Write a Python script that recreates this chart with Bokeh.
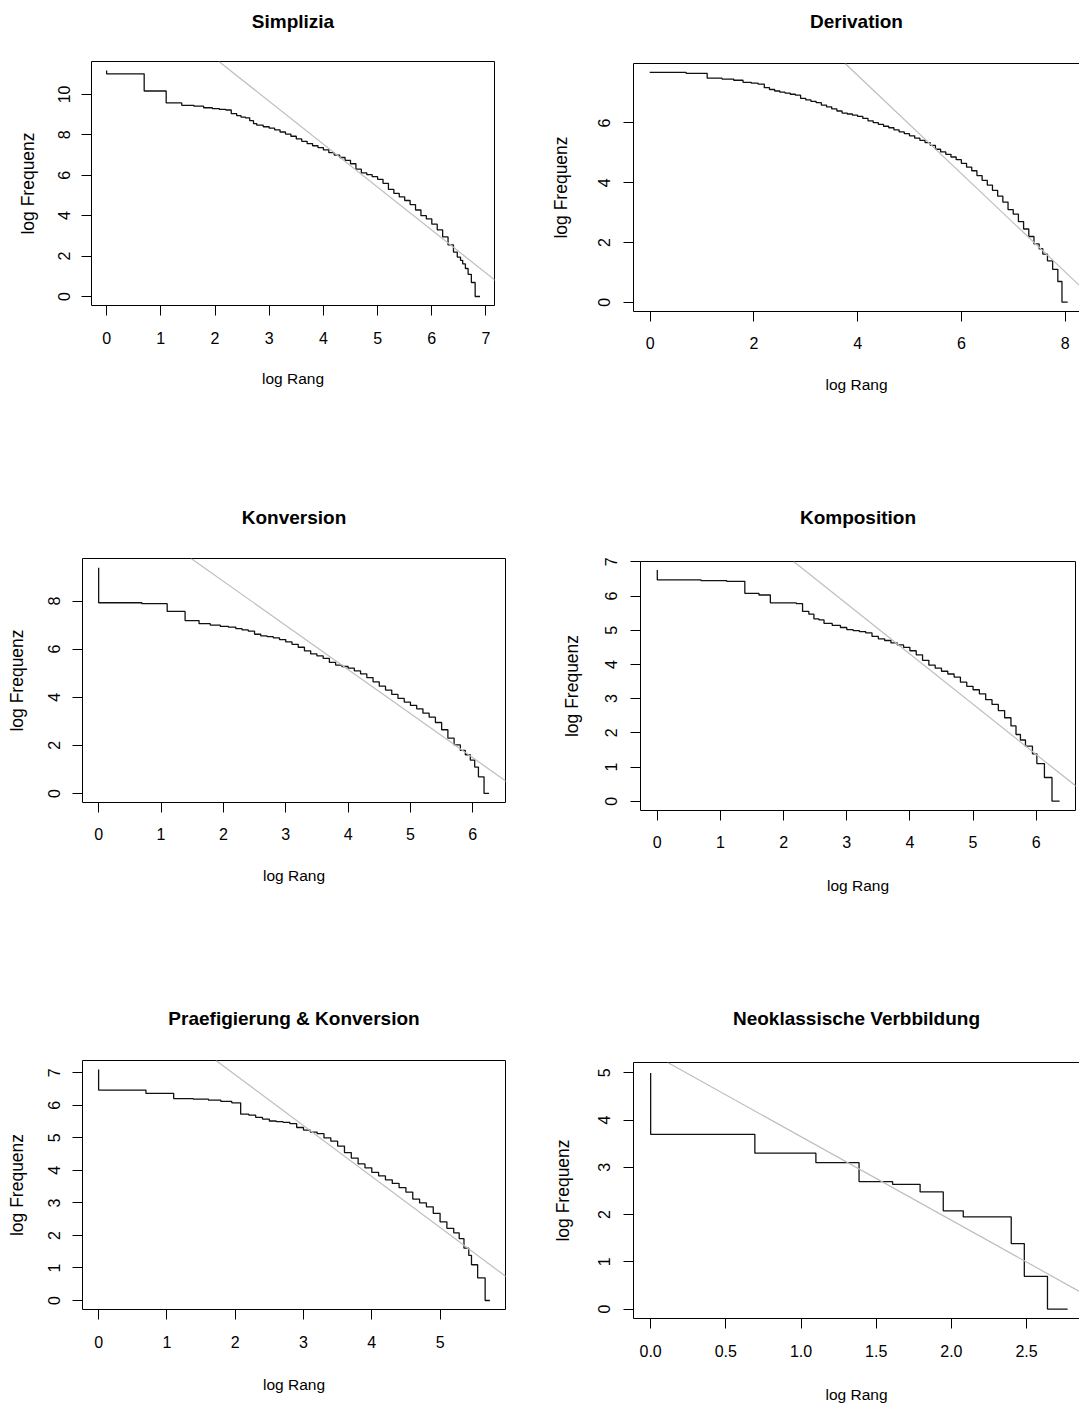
from bokeh.plotting import figure
from bokeh.models import Range1d, FixedTicker, LinearAxis, Slope, PrintfTickFormatter
from bokeh.layouts import column, row
from bokeh.embed import file_html
from bokeh.resources import INLINE

FONT = "Liberation Sans"

# ---------------- data (log rank, log frequency) ----------------
titles = ["Simplizia", "Derivation", "Konversion", "Komposition",
          "Praefigierung & Konversion", "Neoklassische Verbbildung"]

simplizia_x = [0, 0.693, 1.099, 1.386, 1.61, 1.79, 1.95, 2.08, 2.20, 2.30, 2.40, 2.48, 2.56, 2.64,
               2.71, 2.77, 2.89, 3.0, 3.1, 3.2, 3.3, 3.4, 3.5, 3.6, 3.7, 3.8, 3.9, 4.0, 4.1, 4.2,
               4.3, 4.4, 4.5, 4.6, 4.7, 4.8, 4.9, 5.0, 5.1, 5.2, 5.3, 5.4, 5.5, 5.6, 5.7, 5.8,
               5.9, 6.0, 6.1, 6.2, 6.3, 6.4, 6.47, 6.53, 6.57, 6.62, 6.67, 6.73, 6.80, 6.89]
simplizia_y = [11.19, 11.02, 10.17, 9.58, 9.46, 9.42, 9.34, 9.30, 9.26, 9.23, 9.05, 8.95, 8.88, 8.84,
               8.70, 8.56, 8.48, 8.40, 8.33, 8.25, 8.14, 8.04, 7.93, 7.80, 7.68, 7.57, 7.46, 7.37, 7.26, 7.12,
               7.00, 6.88, 6.74, 6.57, 6.30, 6.12, 6.03, 5.93, 5.80, 5.60, 5.30, 5.10, 4.93, 4.75, 4.55, 4.28,
               4.00, 3.84, 3.58, 3.30, 2.95, 2.55, 2.20, 1.95, 1.79, 1.61, 1.386, 1.099, 0.693, 0]

derivation_x = [0, 0.693, 1.099, 1.386, 1.61, 1.79, 1.95, 2.08, 2.2, 2.3, 2.4, 2.5, 2.6, 2.7, 2.8, 2.9,
                3.0, 3.1, 3.2, 3.3, 3.4, 3.5, 3.6, 3.7, 3.8, 3.9, 4.0, 4.1, 4.2, 4.3, 4.4, 4.5, 4.6,
                4.7, 4.8, 4.9, 5.0, 5.1, 5.2, 5.3, 5.4, 5.5, 5.6, 5.7, 5.8, 5.9, 6.0, 6.1, 6.2, 6.3,
                6.4, 6.5, 6.6, 6.7, 6.8, 6.9, 7.0, 7.1, 7.2, 7.3, 7.4, 7.5, 7.57, 7.66, 7.76, 7.86,
                7.94, 8.05]
derivation_y = [7.71, 7.69, 7.66, 7.50, 7.47, 7.43, 7.36, 7.33, 7.30, 7.18, 7.12, 7.07, 7.03, 7.00, 6.96, 6.93,
                6.82, 6.77, 6.72, 6.68, 6.60, 6.54, 6.47, 6.40, 6.33, 6.30, 6.26, 6.22, 6.15, 6.07, 6.01, 5.95, 5.89,
                5.84, 5.77, 5.70, 5.64, 5.57, 5.49, 5.42, 5.34, 5.25, 5.12, 5.03, 4.95, 4.86, 4.77, 4.65, 4.52, 4.40,
                4.24, 4.08, 3.92, 3.74, 3.55, 3.35, 3.10, 2.95, 2.70, 2.45, 2.20, 1.95, 1.79, 1.61, 1.386, 1.099,
                0.693, 0]

konversion_x = [0, 0.693, 1.099, 1.386, 1.61, 1.79, 1.95, 2.08, 2.2, 2.3, 2.4, 2.5, 2.6, 2.7, 2.8, 2.9,
                3.0, 3.1, 3.2, 3.3, 3.4, 3.5, 3.6, 3.7, 3.8, 3.9, 4.0, 4.1, 4.2, 4.3, 4.4, 4.5, 4.6, 4.7,
                4.8, 4.9, 5.0, 5.1, 5.2, 5.3, 5.4, 5.5, 5.6, 5.7, 5.8, 5.88, 5.96, 6.03, 6.09, 6.18, 6.26]
konversion_y = [9.39, 7.93, 7.89, 7.57, 7.19, 7.06, 7.00, 6.95, 6.92, 6.85, 6.80, 6.75, 6.62, 6.55, 6.52, 6.47,
                6.40, 6.30, 6.20, 6.08, 5.93, 5.80, 5.72, 5.62, 5.45, 5.34, 5.28, 5.21, 5.10, 4.97, 4.82, 4.64, 4.46, 4.30,
                4.12, 3.95, 3.80, 3.66, 3.52, 3.34, 3.17, 2.95, 2.65, 2.30, 2.02, 1.79, 1.61, 1.386, 1.099, 0.693, 0]

komposition_x = [0, 0.693, 1.099, 1.386, 1.61, 1.79, 1.95, 2.08, 2.2, 2.3, 2.4, 2.48, 2.56, 2.64, 2.77, 2.9,
                 3.0, 3.1, 3.2, 3.3, 3.4, 3.5, 3.6, 3.7, 3.8, 3.9, 4.0, 4.1, 4.2, 4.3, 4.4, 4.5, 4.6, 4.7,
                 4.8, 4.9, 5.0, 5.1, 5.2, 5.3, 5.4, 5.5, 5.6, 5.68, 5.75, 5.83, 5.94, 6.01, 6.13, 6.25, 6.37]
komposition_y = [6.76, 6.47, 6.45, 6.43, 6.08, 6.03, 5.80, 5.80, 5.80, 5.78, 5.55, 5.47, 5.33, 5.30, 5.20, 5.14,
                 5.08, 5.02, 4.99, 4.96, 4.92, 4.82, 4.75, 4.70, 4.63, 4.57, 4.50, 4.40, 4.28, 4.12, 3.98, 3.89, 3.80, 3.72,
                 3.63, 3.48, 3.36, 3.26, 3.14, 2.97, 2.83, 2.65, 2.44, 2.20, 1.95, 1.79, 1.61, 1.386, 1.099, 0.693, 0]

praefig_x = [0, 0.693, 1.099, 1.386, 1.61, 1.79, 1.95, 2.08, 2.2, 2.3, 2.4, 2.5, 2.6, 2.7, 2.8, 2.9,
             3.0, 3.1, 3.2, 3.3, 3.4, 3.5, 3.6, 3.7, 3.8, 3.9, 4.0, 4.1, 4.2, 4.3, 4.4, 4.5, 4.6, 4.7,
             4.8, 4.9, 5.0, 5.1, 5.2, 5.28, 5.35, 5.42, 5.46, 5.55, 5.66, 5.73]
praefig_y = [7.10, 6.47, 6.37, 6.21, 6.19, 6.16, 6.12, 6.08, 5.73, 5.70, 5.63, 5.58, 5.52, 5.50, 5.48, 5.44,
             5.32, 5.24, 5.18, 5.13, 5.00, 4.90, 4.75, 4.55, 4.38, 4.20, 4.08, 3.94, 3.83, 3.71, 3.60, 3.47, 3.33, 3.12,
             3.00, 2.88, 2.68, 2.42, 2.22, 2.08, 1.90, 1.61, 1.386, 1.099, 0.693, 0]

neoklass_x = [0, 0.693, 1.099, 1.386, 1.609, 1.792, 1.946, 2.079, 2.197, 2.303, 2.398, 2.485,
              2.565, 2.639, 2.708, 2.773]
neoklass_y = [5.0, 3.7, 3.3, 3.1, 2.7, 2.64, 2.48, 2.08, 1.95, 1.95, 1.95, 1.386, 0.693, 0.693, 0, 0]

# fitted regression lines: (slope, intercept)
fit_slopes = [-2.124, -1.644, -1.834, -1.469, -1.565, -1.77]
fit_intercepts = [16.03, 14.17, 12.49, 10.18, 10.07, 5.42]

x_ticks = [[0, 1, 2, 3, 4, 5, 6, 7], [0, 2, 4, 6, 8], [0, 1, 2, 3, 4, 5, 6],
           [0, 1, 2, 3, 4, 5, 6], [0, 1, 2, 3, 4, 5], [0, 0.5, 1.0, 1.5, 2.0, 2.5]]
y_ticks = [[0, 2, 4, 6, 8, 10], [0, 2, 4, 6], [0, 2, 4, 6, 8],
           [0, 1, 2, 3, 4, 5, 6, 7], [0, 1, 2, 3, 4, 5, 6, 7], [0, 1, 2, 3, 4, 5]]

series = [(simplizia_x, simplizia_y), (derivation_x, derivation_y), (konversion_x, konversion_y),
          (komposition_x, komposition_y), (praefig_x, praefig_y), (neoklass_x, neoklass_y)]

# ---------------- layout (per panel) ----------------
# mb = min borders (left, right, top, bottom); tso = title standoff above frame
layout = [
    dict(w=540, h=450, mb=(91, 46, 61, 145), xr=(-0.279, 7.157), yr=(-0.446, 11.63),
         xs=16, xls=23, ys=11, yls=18, tso=30, right=True, fmt="%d"),
    dict(w=539, h=450, mb=(93, 0, 63, 139), xr=(-0.322, 8.278), yr=(-0.311, 7.99),
         xs=15, xls=24, ys=13, yls=25, tso=32, right=False, fmt="%d"),
    dict(w=540, h=505, mb=(82, 35, 108, 153), xr=(-0.259, 6.524), yr=(-0.376, 9.77),
         xs=15, xls=24, ys=12, yls=19, tso=31, right=True, fmt="%d"),
    dict(w=539, h=505, mb=(100, 4, 111, 145), xr=(-0.266, 6.622), yr=(-0.272, 7.01),
         xs=15, xls=26, ys=13, yls=21, tso=34, right=True, fmt="%d"),
    dict(w=540, h=453, mb=(82, 35, 105, 99), xr=(-0.236, 5.958), yr=(-0.277, 7.38),
         xs=16, xls=25, ys=12, yls=19, tso=32, right=True, fmt="%d"),
    dict(w=539, h=453, mb=(93, 0, 107, 90), xr=(-0.114, 2.852), yr=(-0.2, 5.22),
         xs=16, xls=26, ys=13, yls=23, tso=34, right=False, fmt="%.1f"),
]


def step_path(xs, ys):
    # R type="S": vertical step first, then horizontal
    px, py = [xs[0]], [ys[0]]
    for i in range(1, len(xs)):
        px += [xs[i - 1], xs[i]]
        py += [ys[i], ys[i]]
    return px, py


def blank_axis(label=None, standoff=0):
    a = LinearAxis(ticker=FixedTicker(ticks=[]), major_tick_out=0, major_tick_in=0,
                   minor_tick_out=0, minor_tick_in=0, major_label_standoff=0,
                   major_label_text_font_size="0px", axis_line_color="black", axis_line_width=1)
    if label is not None:
        a.axis_label = label
        a.axis_label_standoff = standoff
        a.axis_label_text_font = FONT
        a.axis_label_text_font_size = "19px"
        a.axis_label_text_font_style = "bold"
        a.axis_label_text_color = "black"
    return a


def make_panel(i):
    L = layout[i]
    xs, ys = series[i]
    p = figure(width=L["w"], height=L["h"], output_backend="svg", toolbar_location=None,
               x_range=Range1d(*L["xr"]), y_range=Range1d(*L["yr"]),
               min_border_left=L["mb"][0], min_border_right=L["mb"][1],
               min_border_top=L["mb"][2], min_border_bottom=L["mb"][3],
               x_axis_label="log Rang", y_axis_label="log Frequenz")
    p.outline_line_color = None
    p.grid.visible = False
    p.background_fill_color = "white"
    p.border_fill_color = "white"

    xa, ya = p.xaxis[0], p.yaxis[0]
    xa.ticker = FixedTicker(ticks=x_ticks[i])
    ya.ticker = FixedTicker(ticks=y_ticks[i])
    xa.formatter = PrintfTickFormatter(format=L["fmt"])
    ya.formatter = PrintfTickFormatter(format="%d")
    for ax, so, lso, lsize in ((xa, L["xs"], L["xls"], "15.5px"), (ya, L["ys"], L["yls"], "17.5px")):
        ax.major_tick_out = 10
        ax.major_tick_in = 0
        ax.minor_tick_out = 0
        ax.minor_tick_in = 0
        ax.axis_line_color = "black"
        ax.major_tick_line_color = "black"
        ax.major_label_standoff = int(so)
        ax.axis_label_standoff = int(lso)
        ax.major_label_text_font = FONT
        ax.major_label_text_font_size = "16px"
        ax.major_label_text_color = "black"
        ax.axis_label_text_font = FONT
        ax.axis_label_text_font_size = lsize
        ax.axis_label_text_font_style = "normal"
        ax.axis_label_text_color = "black"
    ya.major_label_orientation = "parallel"

    # top edge of the box carries the panel title
    p.add_layout(blank_axis(titles[i], L["tso"]), "above")
    if L["right"]:
        p.add_layout(blank_axis(), "right")

    sx, sy = step_path(xs, ys)
    p.line(sx, sy, line_color="#111111", line_width=1.3)
    p.add_layout(Slope(gradient=fit_slopes[i], y_intercept=fit_intercepts[i],
                       line_color="#bebebe", line_width=1.2))
    return p


panels = [make_panel(i) for i in range(6)]
root = column(
    row(column(panels[0]), column(panels[1])),
    row(column(panels[2]), column(panels[3])),
    row(column(panels[4]), column(panels[5])),
)

open("out.html", "w").write(file_html(root, INLINE))
